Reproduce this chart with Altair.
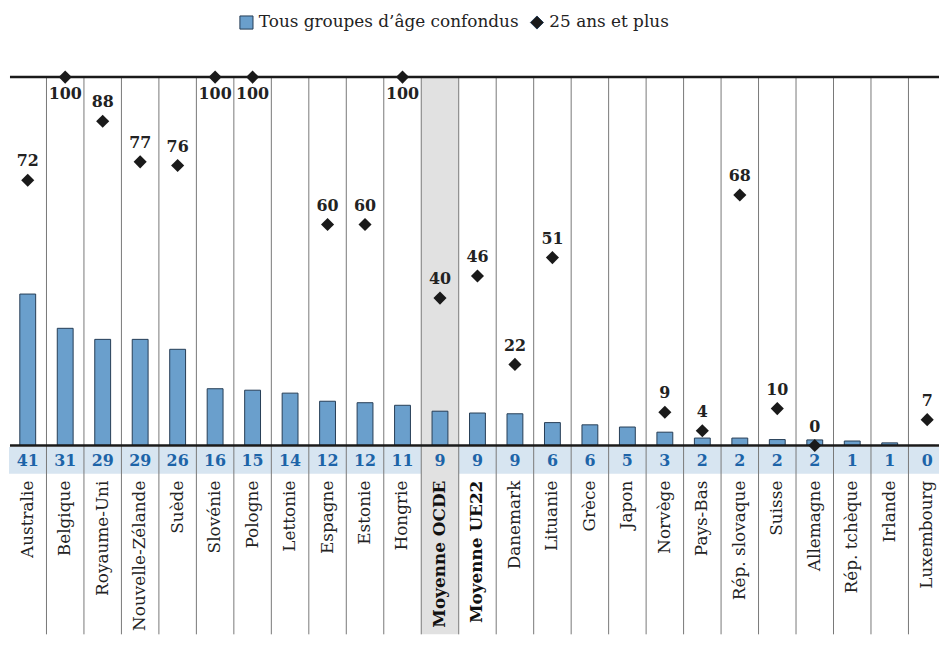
import altair as alt
import pandas as pd

countries = ["Australie", "Belgique", "Royaume-Uni", "Nouvelle-Zélande", "Suède", "Slovénie",
             "Pologne", "Lettonie", "Espagne", "Estonie", "Hongrie", "Moyenne OCDE",
             "Moyenne UE22", "Danemark", "Lituanie", "Grèce", "Japon", "Norvège", "Pays-Bas",
             "Rép. slovaque", "Suisse", "Allemagne", "Rép. tchèque", "Irlande", "Luxembourg"]
all_ages_bar = [41.1, 31.8, 28.8, 28.8, 26.1, 15.4, 15.0, 14.2, 12.0, 11.6, 10.9, 9.3,
                8.8, 8.6, 6.2, 5.6, 5.0, 3.6, 2.0, 2.0, 1.6, 1.5, 1.2, 0.7, 0.0]
all_ages_label = [41, 31, 29, 29, 26, 16, 15, 14, 12, 12, 11, 9, 9, 9, 6, 6, 5, 3, 2, 2, 2, 2, 1, 1, 0]
age25_plus = [72, 100, 88, 77, 76, 100, 100, None, 60, 60, 100, 40, 46, 22, 51, None, None,
              9, 4, 68, 10, 0, None, None, 7]
averages = ["Moyenne OCDE", "Moyenne UE22"]
highlight = ["Moyenne OCDE"]

S1 = "Tous groupes d\u2019âge confondus"
S2 = "25 ans et plus"

df = pd.DataFrame({
    "pays": countries,
    "bar": all_ages_bar,
    "lab": all_ages_label,
    "p25": age25_plus,
})
df["idx"] = list(range(len(countries)))
df["serie1"] = S1
df["serie2"] = S2
df["is_avg"] = df["pays"].isin(averages)
df["is_hl"] = df["pays"].isin(highlight)

W = 938
H = 562
STEP = 37.8
FONT = "DejaVu Serif"

xs = alt.Scale(domainMin=0, domainMax=round(W / STEP, 3), range=[0, W],
               nice=False, zero=False, padding=0)
ys = alt.Scale(domain=[0, 100], range=[371.5, 0])
XC = alt.X("xc:Q", scale=xs, axis=None)
XL = alt.X("xl:Q", scale=xs, axis=None)
XR = alt.X2("xr:Q")

base = alt.Chart(df).transform_calculate(
    xc="datum.idx + 0.5", xl="datum.idx", xr="datum.idx + 1"
)

gray_col = base.mark_rect(color="#e1e1e1").encode(
    x=XL, x2=XR, y=alt.value(0), y2=alt.value(H)
).transform_filter("datum.is_hl")

band = base.mark_rect(color="#d7e5f1").encode(
    x=XL, x2=XR, y=alt.value(373), y2=alt.value(400)
).transform_filter("!datum.is_hl")

seps = base.mark_rule(color="#777777", strokeWidth=1).encode(
    x=XL, y=alt.value(0), y2=alt.value(H)
).transform_filter("datum.idx > 0")

top_line = base.mark_rule(color="#1a1a1a", strokeWidth=2.5).encode(
    x=alt.value(1), x2=alt.value(W), y=alt.value(0)
).transform_filter("datum.idx == 0")

bars = base.mark_bar(size=16, stroke="#253d55", strokeWidth=1).encode(
    x=XC, y=alt.Y("bar:Q", scale=ys, axis=None), y2=alt.datum(0),
    color=alt.Color("serie1:N", scale=alt.Scale(domain=[S1, S2], range=["#6a9fcc", "#1a1a1a"]),
                    legend=alt.Legend(title=None, orient="none", legendX=231, legendY=-64,
                                      direction="horizontal", symbolSize=175,
                                      symbolStrokeColor="#253d55", symbolStrokeWidth=1,
                                      columnPadding=8, labelOffset=4,
                                      labelFont=FONT, labelFontSize=17, labelLimit=0)),
)

base_line = base.mark_rule(color="#1a1a1a", strokeWidth=2.5).encode(
    x=alt.value(1), x2=alt.value(W), y=alt.value(371.5)
).transform_filter("datum.idx == 0")

pts = base.mark_point(filled=True, size=175, opacity=1).encode(
    x=XC, y=alt.Y("p25:Q", scale=ys, axis=None),
    color=alt.Color("serie2:N", scale=alt.Scale(domain=[S1, S2], range=["#6a9fcc", "#1a1a1a"])),
    shape=alt.Shape("serie2:N", scale=alt.Scale(domain=[S1, S2], range=["square", "diamond"])),
).transform_filter("isValid(datum.p25)")

pt_lab_above = base.mark_text(font=FONT, fontWeight="bold", fontSize=16, color="#222222",
                              dy=-19, baseline="middle").encode(
    x=XC, y=alt.Y("p25:Q", scale=ys, axis=None), text="p25:Q"
).transform_filter("isValid(datum.p25) && datum.p25 < 100")

pt_lab_below = base.mark_text(font=FONT, fontWeight="bold", fontSize=16, color="#222222",
                              dy=17, baseline="middle").encode(
    x=XC, y=alt.Y("p25:Q", scale=ys, axis=None), text="p25:Q"
).transform_filter("isValid(datum.p25) && datum.p25 >= 100")

band_txt = base.mark_text(font=FONT, fontWeight="bold", fontSize=16, color="#1d64a8",
                          baseline="middle").encode(
    x=XC, y=alt.value(387), text="lab:Q"
)

names = base.mark_text(font=FONT, fontSize=17, color="#222222", angle=270,
                       align="right", baseline="middle").encode(
    x=XC, y=alt.value(407), text="pays:N"
).transform_filter("!datum.is_avg")

names_bold = base.mark_text(font=FONT, fontSize=17, fontWeight="bold", color="#111111", angle=270,
                            align="right", baseline="middle").encode(
    x=XC, y=alt.value(407), text="pays:N"
).transform_filter("datum.is_avg")

chart = alt.layer(
    gray_col, band, seps, top_line, bars, base_line, pts, pt_lab_above, pt_lab_below,
    band_txt, names, names_bold
).properties(
    width=W, height=H,
    autosize=alt.AutoSizeParams(type="none"),
    padding={"left": 1, "top": 67, "right": 0, "bottom": 0},
).configure(font=FONT).configure_view(stroke=None).configure_legend(
    labelFont=FONT, labelFontSize=17, labelColor="#222222", labelLimit=0
)

chart.save("out.html", embed_options={"renderer": "svg", "actions": False})
